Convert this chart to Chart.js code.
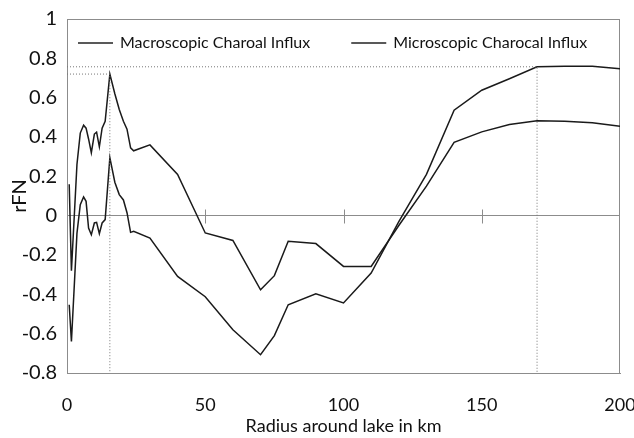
<!DOCTYPE html>
<html lang="en">
<head>
  <meta charset="UTF-8">
  <title>rFN vs radius around lake</title>
  <script src="https://cdn.jsdelivr.net/npm/chart.js"></script>
  <style>
    * { margin: 0; padding: 0; box-sizing: border-box; }
    body { width: 634px; height: 438px; background: #fff; overflow: hidden; }
    #wrap { width: 634px; height: 438px; position: relative; }
  </style>
</head>
<body>
<div id="wrap"><canvas id="chart"></canvas></div>

<script>
  // radius around lake (km), shared by both series
  const radius = [0.8, 1.6, 3.6, 4.8, 6, 6.9, 7.8, 8.8, 9.9, 10.7, 11.7, 12.7, 13.8, 15.5, 17.3, 18.9,
    20.4, 21.7, 23, 24.1, 30, 40, 50, 60, 70, 75, 80, 90, 100, 110, 120, 130, 140, 150, 160, 170, 180, 190, 200];

  const macroValues = [0.16, -0.28, 0.26, 0.42, 0.46, 0.445, 0.39, 0.32, 0.415, 0.425, 0.35, 0.445, 0.48, 0.72, 0.62, 0.54,
    0.48, 0.44, 0.345, 0.33, 0.36, 0.21, -0.088, -0.126, -0.377, -0.305, -0.13, -0.142, -0.258, -0.258, -0.05, 0.15,
    0.373, 0.426, 0.463, 0.483, 0.48, 0.472, 0.454];

  const microValues = [-0.453, -0.64, -0.09, 0.056, 0.095, 0.073, -0.063, -0.097, -0.037, -0.034, -0.092, -0.037, -0.02, 0.295, 0.17, 0.107,
    0.08, 0.015, -0.085, -0.08, -0.114, -0.309, -0.412, -0.58, -0.707, -0.61, -0.453, -0.397, -0.444, -0.292, -0.03, 0.21,
    0.536, 0.638, 0.696, 0.757, 0.76, 0.76, 0.747];

  const seriesLabels = ['Macroscopic Charoal Influx', 'Microscopic Charocal Influx'];

  // peaks marked with dotted drop lines
  const macroPeak = [15.5, 0.72];
  const microPeak = [170, 0.757];

  const xTicks = [0, 50, 100, 150, 200];
  const yTicks = [-0.8, -0.6, -0.4, -0.2, 0, 0.2, 0.4, 0.6, 0.8, 1];

  const FONT = 'Lato, "Open Sans", sans-serif';
  const AXIS_GREY = '#8c8c8c';

  const toPoints = (xs, ys) => xs.map((x, i) => ({x: x, y: ys[i]}));
  const dropLine = (p) => [{x: 0, y: p[1]}, {x: p[0], y: p[1]}, {x: p[0], y: -0.8}];

  // box around plot, tick marks sitting on the zero line, legend inside the plot
  const extras = {
    id: 'extras',
    beforeDatasetsDraw(chart) {
      const {ctx, chartArea: a, scales} = chart;
      ctx.save();
      ctx.strokeStyle = AXIS_GREY;
      ctx.lineWidth = 1;
      ctx.strokeRect(a.left + 0.5, a.top + 0.5, a.right - a.left - 1, a.bottom - a.top);
      const y0 = Math.round(scales.y.getPixelForValue(0)) + 0.5;
      xTicks.slice(1, -1).forEach(v => {
        const x = Math.round(scales.x.getPixelForValue(v)) + 0.5;
        ctx.beginPath();
        ctx.moveTo(x, y0 - 7);
        ctx.lineTo(x, y0 + 7);
        ctx.stroke();
      });
      ctx.restore();
    },
    afterDraw(chart) {
      const {ctx, chartArea: a} = chart;
      ctx.save();
      ctx.font = '16px ' + FONT;
      ctx.textBaseline = 'middle';
      ctx.fillStyle = '#111';
      ctx.strokeStyle = '#222';
      ctx.lineWidth = 1.3;
      let x = a.left + 11;
      const y = a.top + 24;
      seriesLabels.forEach(t => {
        ctx.beginPath();
        ctx.moveTo(x, y);
        ctx.lineTo(x + 35, y);
        ctx.stroke();
        ctx.fillText(t, x + 42, y);
        x += 42 + ctx.measureText(t).width + 41;
      });
      ctx.restore();
    }
  };

  const lineStyle = {
    borderColor: '#1a1a1a',
    borderWidth: 1.5,
    pointRadius: 0,
    tension: 0,
    fill: false
  };
  const dotStyle = {
    borderColor: '#777',
    borderWidth: 1,
    borderDash: [1, 2],
    pointRadius: 0,
    tension: 0,
    fill: false
  };

  new Chart(document.getElementById('chart'), {
    type: 'line',
    data: {
      datasets: [
        Object.assign({label: 'macroPeak', data: dropLine(macroPeak)}, dotStyle),
        Object.assign({label: 'microPeak', data: dropLine(microPeak)}, dotStyle),
        Object.assign({label: seriesLabels[0], data: toPoints(radius, macroValues)}, lineStyle),
        Object.assign({label: seriesLabels[1], data: toPoints(radius, microValues)}, lineStyle)
      ]
    },
    options: {
      responsive: true,
      maintainAspectRatio: false,
      animation: false,
      layout: {padding: {left: 0, right: 14, top: 19, bottom: 0}},
      plugins: {
        legend: {display: false},
        tooltip: {enabled: false}
      },
      scales: {
        x: {
          type: 'linear',
          min: 0,
          max: 200,
          afterBuildTicks: s => { s.ticks = xTicks.map(v => ({value: v})); },
          afterFit: s => { s.height = 65; s.paddingLeft = 0; s.paddingRight = 0; },
          grid: {display: false, drawTicks: false},
          border: {display: true, color: AXIS_GREY},
          ticks: {padding: 21, color: '#111', font: {family: FONT, size: 18}, maxRotation: 0},
          title: {display: true, text: 'Radius around lake in km', color: '#111',
            font: {family: FONT, size: 18}, padding: {top: 0, bottom: 1}}
        },
        y: {
          min: -0.8,
          max: 1,
          afterBuildTicks: s => { s.ticks = yTicks.map(v => ({value: v})); },
          afterFit: s => { s.width = 67; s.paddingTop = 0; s.paddingBottom = 0; },
          grid: {
            drawTicks: false,
            color: c => (c.tick && c.tick.value === 0 ? AXIS_GREY : 'transparent')
          },
          border: {display: true, color: AXIS_GREY},
          ticks: {padding: 10, color: '#111', font: {family: FONT, size: 20},
            callback: v => String(Math.round(v * 10) / 10)},
          title: {display: true, text: 'rFN', color: '#111',
            font: {family: FONT, size: 20}, padding: {top: 8, bottom: 0}}
        }
      }
    },
    plugins: [extras]
  });
</script>
</body>
</html>
